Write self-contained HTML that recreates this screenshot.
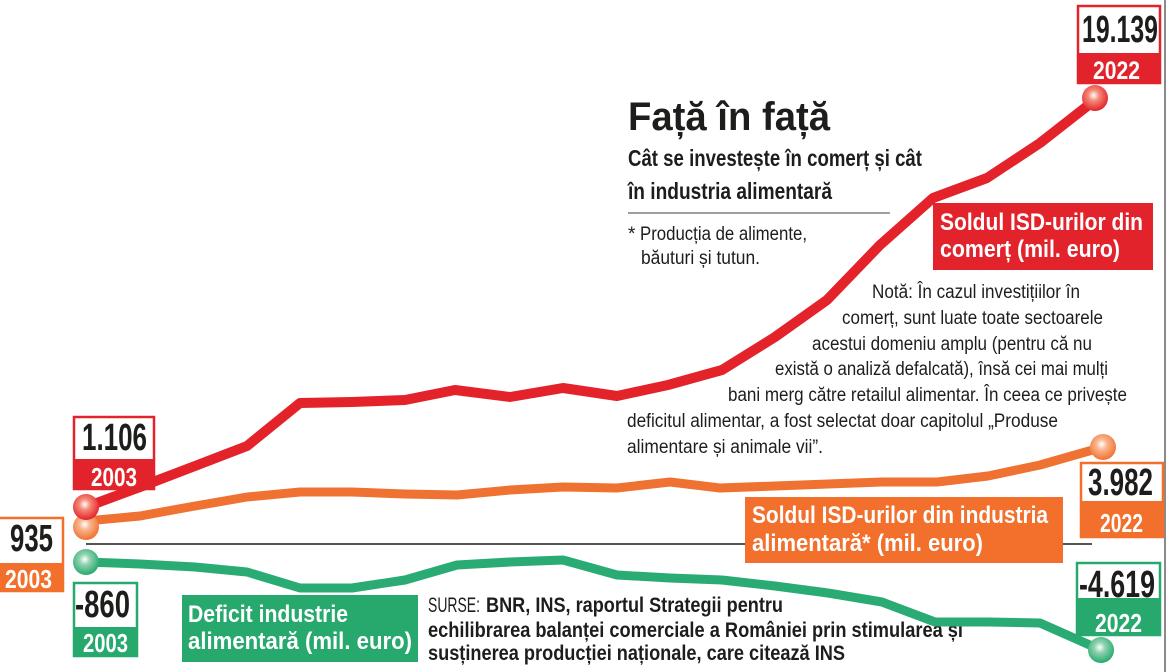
<!DOCTYPE html>
<html><head><meta charset="utf-8"><style>
html,body{margin:0;padding:0;background:#fff;width:1170px;height:672px;overflow:hidden}
svg{display:block}
text{font-family:"Liberation Sans Narrow","Liberation Sans","DejaVu Sans Condensed",sans-serif}
.b{font-weight:bold}
</style></head><body>
<svg width="1170" height="672" viewBox="0 0 1170 672" xmlns="http://www.w3.org/2000/svg">
<defs>
<radialGradient id="gr" cx="45%" cy="40%" r="60%"><stop offset="0" stop-color="#fff"/><stop offset="0.35" stop-color="#f58a78"/><stop offset="1" stop-color="#e2232b"/></radialGradient>
<radialGradient id="go" cx="45%" cy="40%" r="60%"><stop offset="0" stop-color="#fff"/><stop offset="0.35" stop-color="#f9b58e"/><stop offset="1" stop-color="#f07232"/></radialGradient>
<radialGradient id="gg" cx="45%" cy="40%" r="60%"><stop offset="0" stop-color="#fff"/><stop offset="0.35" stop-color="#8fd2b0"/><stop offset="1" stop-color="#27a96e"/></radialGradient>
</defs>
<rect x="0" y="0" width="1170" height="672" fill="#fff"/>
<rect x="1164" y="0" width="2" height="672" fill="#8a8a8a"/>

<!-- title block -->
<text class="b" x="628" y="130" font-size="40" textLength="202" lengthAdjust="spacingAndGlyphs" fill="#1d1d1b">Față în față</text>
<text class="b" x="628" y="166" font-size="23" textLength="294" lengthAdjust="spacingAndGlyphs" fill="#1d1d1b">Cât se investește în comerț și cât</text>
<text class="b" x="628" y="199" font-size="23" textLength="204" lengthAdjust="spacingAndGlyphs" fill="#1d1d1b">în industria alimentară</text>
<line x1="628" y1="213" x2="890" y2="213" stroke="#666" stroke-width="1.2"/>
<text x="628" y="240" font-size="19" fill="#1d1d1b">*</text>
<text x="640" y="240" font-size="19" textLength="167" lengthAdjust="spacingAndGlyphs" fill="#1d1d1b">Producția de alimente,</text>
<text x="641" y="264" font-size="19" textLength="119" lengthAdjust="spacingAndGlyphs" fill="#1d1d1b">băuturi și tutun.</text>

<!-- note -->
<g font-size="19" fill="#1d1d1b">
<text x="872" y="298" textLength="208" lengthAdjust="spacingAndGlyphs">Notă: În cazul investițiilor în</text>
<text x="842" y="324" textLength="261" lengthAdjust="spacingAndGlyphs">comerț, sunt luate toate sectoarele</text>
<text x="812" y="350" textLength="280" lengthAdjust="spacingAndGlyphs">acestui domeniu amplu (pentru că nu</text>
<text x="775" y="375" textLength="333" lengthAdjust="spacingAndGlyphs">există o analiză defalcată), însă cei mai mulți</text>
<text x="728" y="401" textLength="399" lengthAdjust="spacingAndGlyphs">bani merg către retailul alimentar. În ceea ce privește</text>
<text x="627" y="427" textLength="431" lengthAdjust="spacingAndGlyphs">deficitul alimentar, a fost selectat doar capitolul „Produse</text>
<text x="627" y="453" textLength="196" lengthAdjust="spacingAndGlyphs">alimentare și animale vii”.</text>
</g>

<!-- sources -->
<text x="428" y="612" font-size="21" textLength="52" lengthAdjust="spacingAndGlyphs" fill="#1d1d1b">SURSE:</text>
<text class="b" x="486" y="612" font-size="21" textLength="297" lengthAdjust="spacingAndGlyphs" fill="#1d1d1b">BNR, INS, raportul Strategii pentru</text>
<text class="b" x="428" y="637" font-size="21" textLength="535" lengthAdjust="spacingAndGlyphs" fill="#1d1d1b">echilibrarea balanței comerciale a României prin stimularea și</text>
<text class="b" x="428" y="660" font-size="21" textLength="417" lengthAdjust="spacingAndGlyphs" fill="#1d1d1b">susținerea producției naționale, care citează INS</text>

<!-- axis line -->
<line x1="86" y1="544" x2="1092" y2="544" stroke="#1d1d1b" stroke-width="1.6"/>

<!-- series lines -->
<polyline fill="none" stroke="#2bab74" stroke-width="9" stroke-linejoin="round" stroke-linecap="round" points="86,562 140,564 195,567 247,572 300,588 352,588 405,580 457,565 510,562 563,560 617,575 670,578 722,580 775,586 828,593 882,602 935,622 988,622 1040,623 1101,650"/>
<polyline fill="none" stroke="#f07232" stroke-width="9" stroke-linejoin="round" stroke-linecap="round" points="86,521 140,516 195,506 247,497 300,492 352,492 405,494 457,495 510,490 563,487 617,488 670,482 720,488 775,486 828,484 882,482 937,482 988,476 1040,465 1103,447"/>
<polyline fill="none" stroke="#e4222a" stroke-width="10" stroke-linejoin="round" stroke-linecap="round" points="86,507 140,487 195,466 247,446 300,403 352,402 405,400 455,390 510,397 563,388 617,396 668,385 722,370 775,337 827,300 880,245 933,198 987,178 1040,143 1095,100"/>

<!-- circles -->
<circle cx="86" cy="562" r="13" fill="url(#gg)"/>
<circle cx="86" cy="527" r="13" fill="url(#go)"/>
<circle cx="86" cy="507" r="13" fill="url(#gr)"/>
<circle cx="1095" cy="98" r="13" fill="url(#gr)"/>
<circle cx="1103" cy="447" r="13" fill="url(#go)"/>
<circle cx="1101" cy="650" r="13" fill="url(#gg)"/>

<!-- series labels -->
<rect x="933" y="203" width="220" height="67" fill="#e2232b"/>
<text class="b" x="940" y="230" font-size="24" textLength="203" lengthAdjust="spacingAndGlyphs" fill="#fff">Soldul ISD-urilor din</text>
<text class="b" x="940" y="257" font-size="24" textLength="180" lengthAdjust="spacingAndGlyphs" fill="#fff">comerț (mil. euro)</text>

<rect x="745" y="497" width="318" height="66" fill="#f26f2c"/>
<text class="b" x="752" y="523" font-size="24" textLength="296" lengthAdjust="spacingAndGlyphs" fill="#fff">Soldul ISD-urilor din industria</text>
<text class="b" x="752" y="551" font-size="24" textLength="231" lengthAdjust="spacingAndGlyphs" fill="#fff">alimentară* (mil. euro)</text>

<rect x="182" y="595" width="236" height="67" fill="#27a96e"/>
<text class="b" x="188" y="622" font-size="24" textLength="160" lengthAdjust="spacingAndGlyphs" fill="#fff">Deficit industrie</text>
<text class="b" x="188" y="649" font-size="24" textLength="224" lengthAdjust="spacingAndGlyphs" fill="#fff">alimentară (mil. euro)</text>

<!-- value boxes -->
<rect x="74" y="417" width="80" height="72" fill="#fff" stroke="#e2232b" stroke-width="2.5"/>
<rect x="73" y="459" width="82" height="31" fill="#e2232b"/>
<text class="b" x="82" y="450" font-size="38" textLength="65" lengthAdjust="spacingAndGlyphs" fill="#1d1d1b">1.106</text>
<text class="b" x="91" y="486" font-size="26" textLength="46" lengthAdjust="spacingAndGlyphs" fill="#fff">2003</text>

<rect x="-2" y="518" width="65" height="73" fill="#fff" stroke="#f26f2c" stroke-width="2.5"/>
<rect x="-3" y="563" width="67" height="29" fill="#f26f2c"/>
<text class="b" x="10" y="551" font-size="38" textLength="43" lengthAdjust="spacingAndGlyphs" fill="#1d1d1b">935</text>
<text class="b" x="5" y="588" font-size="26" textLength="47" lengthAdjust="spacingAndGlyphs" fill="#fff">2003</text>

<rect x="74" y="583" width="63" height="73" fill="#fff" stroke="#27a96e" stroke-width="2.5"/>
<rect x="73" y="627" width="65" height="30" fill="#27a96e"/>
<text class="b" x="75" y="617" font-size="38" textLength="55" lengthAdjust="spacingAndGlyphs" fill="#1d1d1b">-860</text>
<text class="b" x="83" y="652" font-size="26" textLength="45" lengthAdjust="spacingAndGlyphs" fill="#fff">2003</text>

<rect x="1078" y="6" width="82" height="77" fill="#fff" stroke="#e2232b" stroke-width="2.5"/>
<rect x="1077" y="53" width="84" height="31" fill="#e2232b"/>
<text class="b" x="1082" y="42" font-size="38" textLength="76" lengthAdjust="spacingAndGlyphs" fill="#1d1d1b">19.139</text>
<text class="b" x="1093" y="79" font-size="25" textLength="47" lengthAdjust="spacingAndGlyphs" fill="#fff">2022</text>

<rect x="1081" y="463" width="82" height="74" fill="#fff" stroke="#f26f2c" stroke-width="2.5"/>
<rect x="1080" y="501" width="84" height="37" fill="#f26f2c"/>
<text class="b" x="1088" y="495" font-size="38" textLength="65" lengthAdjust="spacingAndGlyphs" fill="#1d1d1b">3.982</text>
<text class="b" x="1100" y="532" font-size="26" textLength="43" lengthAdjust="spacingAndGlyphs" fill="#fff">2022</text>

<rect x="1077" y="563" width="83" height="72" fill="#fff" stroke="#27a96e" stroke-width="2.5"/>
<rect x="1076" y="598" width="85" height="38" fill="#27a96e"/>
<text class="b" x="1079" y="597" font-size="38" textLength="76" lengthAdjust="spacingAndGlyphs" fill="#1d1d1b">-4.619</text>
<text class="b" x="1095" y="632" font-size="26" textLength="47" lengthAdjust="spacingAndGlyphs" fill="#fff">2022</text>
</svg>
</body></html>
